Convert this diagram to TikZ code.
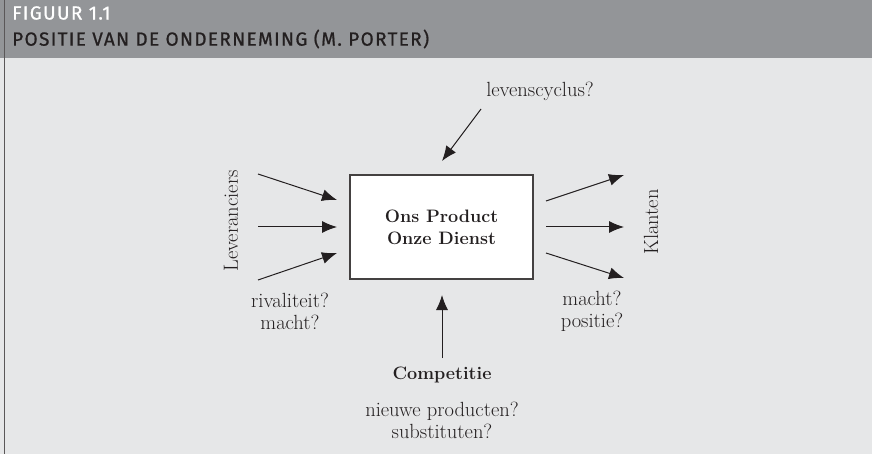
\documentclass[tikz,border=0pt]{standalone}
\usepackage{fontspec}
\usetikzlibrary{arrows.meta}
\newfontfamily\headfont[LetterSpace=7,FakeBold=0.8]{Fira Sans}
\definecolor{headgray}{HTML}{939598}
\definecolor{bodygray}{HTML}{E6E7E8}
\definecolor{inkgray}{HTML}{231F20}
\tikzset{
  txt/.style={font=\fontsize{20.5}{22}\selectfont, align=center, text=inkgray, inner sep=0pt},
  boldtxt/.style={font=\fontsize{18}{22}\selectfont\bfseries, align=center, text=inkgray, inner sep=0pt},
  headtxt/.style={font=\fontsize{19}{19}\selectfont\headfont, anchor=west, inner sep=0pt},
  force/.style={-{Latex[length=15pt,width=12pt]}, line width=1pt, draw=inkgray}
}
\begin{document}
\begin{tikzpicture}[x=1pt,y=-1pt]
  \useasboundingbox (0,0) rectangle (872,454);
  % frame and header
  \fill[bodygray] (0,0) rectangle (872,454);
  \fill[headgray] (0,0) rectangle (872,58.5);
  \draw[inkgray!75, line width=1.4pt] (4.5,0) -- (4.5,454);
  \node[headtxt, text=white] (fig) at (12,13) {FIGUUR 1.1};
  \node[headtxt, text=inkgray] (title) at (12,39) {POSITIE VAN DE ONDERNEMING (M. PORTER)};
  % the product
  \node[draw=inkgray!85, fill=white, line width=1.2pt, minimum width=183pt,
        minimum height=104pt, boldtxt] (product) at (441.5,227) {Ons Product\\Onze Dienst};
  % side labels
  \node[txt] (cycle) at (540,91) {levenscyclus?};
  \node[txt, rotate=90] (suppliers) at (231,221) {Leveranciers};
  \node[txt, rotate=90] (clients) at (651,222) {Klanten};
  \node[txt] (rival) at (290,311) {rivaliteit?\\macht?};
  \node[txt] (power) at (592,311) {macht?\\positie?};
  \node[boldtxt] (competition) at (442,375) {Competitie};
  \node[txt] (newprod) at (442,420) {nieuwe producten?\\substituten?};
  % arrow ends
  \path
    (481,109) coordinate (t0) (442,161) coordinate (t1)
    (258,174) coordinate (l0) (337,200) coordinate (l1)
    (258,227) coordinate (l2) (337,227) coordinate (l3)
    (258,280) coordinate (l4) (337,253) coordinate (l5)
    (546,201) coordinate (r0) (624,175) coordinate (r1)
    (546,227) coordinate (r2) (624,227) coordinate (r3)
    (546,253) coordinate (r4) (624,278) coordinate (r5)
    (442,358) coordinate (b0) (442,295) coordinate (b1);
  \begin{scope}[force]
    \draw (t0) to (t1);
    \draw (l0) to (l1);
    \draw (l2) to (l3);
    \draw (l4) to (l5);
    \draw (r0) to (r1);
    \draw (r2) to (r3);
    \draw (r4) to (r5);
    \draw (b0) to (b1);
  \end{scope}
\end{tikzpicture}
\end{document}
